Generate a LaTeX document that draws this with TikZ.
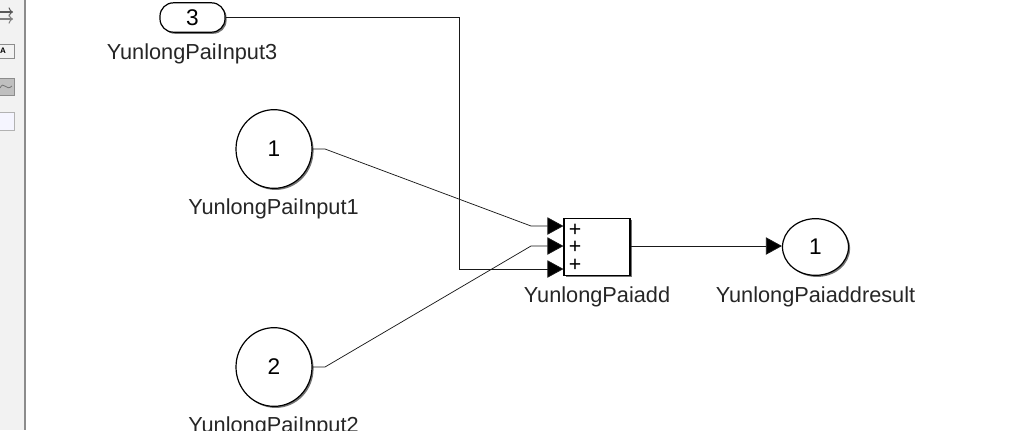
\documentclass[tikz,border=0pt]{standalone}
\usepackage{fontspec}
\setmainfont{Liberation Sans}
\usetikzlibrary{shadows,arrows.meta,shapes.geometric,calc}
\tikzset{
 x=0.75pt,y=-0.75pt,
 sl/.style={drop shadow={shadow xshift=1.2pt,shadow yshift=-1.2pt,fill=black,opacity=.55}},
 blockbox/.style={draw=black,line width=0.9pt,fill=white,sl,inner sep=0pt,font=\fontsize{17}{20}\selectfont},
 lbl/.style={inner sep=0pt,font=\fontsize{16.3}{19}\selectfont,text=black!85},
 plus/.style={inner sep=0pt,font=\fontsize{16}{16}\selectfont},
 wire/.style={draw=black!90,line width=0.55pt},
 arr/.style={wire,-{Triangle[length=12pt,width=13pt,fill=black]}},
}
\begin{document}
\begin{tikzpicture}
\useasboundingbox (0,0) rectangle (1010,430);
\clip (0,0) rectangle (1010,430);
\fill[white] (0,0) rectangle (1010,430);
\fill[black!5] (0,0) rectangle (25,430);
\draw[black!45,line width=0.8pt] (25,0) -- (25,430);
% toolbar icons
\draw[black!65,line width=0.8pt,->] (0,12) -- (13,12);
\draw[black!50,line width=0.8pt,->] (0,19) -- (13,19);
\draw[black!45,fill=black!5] (-3,44) rectangle (14,58);
\node[inner sep=0pt,font=\fontsize{6}{6}\selectfont\bfseries] (ia) at (3,51) {A};
\draw[black!45,fill=black!25] (-3,78) rectangle (14,95);
\draw[black!55,line width=0.6pt] (0,88) .. controls (4,80) and (6,92) .. (12,86);
\draw[black!30,fill=blue!4] (-3,112) rectangle (14,130);
% blocks
\node[blockbox,rounded corners=10pt,minimum width=48.75pt,minimum height=22pt] (in3) at (192.5,17.5) {3};
\node[blockbox,ellipse,minimum width=57pt,minimum height=59pt] (in1) at (274,149) {\raisebox{-0.6pt}{1}};
\node[blockbox,ellipse,minimum width=57pt,minimum height=59pt] (in2) at (274,367) {\raisebox{-0.6pt}{2}};
\node[blockbox,minimum width=49.5pt,minimum height=42.5pt] (add) at (597,247) {};
\node[blockbox,ellipse,minimum width=49.5pt,minimum height=42.5pt] (out) at (815.5,247) {1};
\node[plus] (p1) at (575,230) {+};
\node[plus] (p2) at (575,247) {+};
\node[plus] (p3) at (575,265) {+};
% labels
\node[lbl] (l3) at (192,54) {YunlongPaiInput3};
\node[lbl] (l1) at (273.5,209) {YunlongPaiInput1};
\node[lbl] (l2) at (273.5,427) {YunlongPaiInput2};
\node[lbl] (la) at (597,297) {YunlongPaiadd};
\node[lbl] (lo) at (815.5,297) {YunlongPaiaddresult};
% ports on the sum block
\coordinate (a1) at (add.west |- 0,226);
\coordinate (a2) at (add.west |- 0,246);
\coordinate (a3) at (add.west |- 0,269);
\coordinate (o1) at (add.east |- 0,246);
\coordinate (o2) at (out.west |- 0,246);
% wires
\draw[arr] (in3.east) -- (459,17.5) -- (459,269) -- (a3);
\draw[arr] (in1.east) -- (325,149) -- (531,226) -- (a1);
\draw[arr] (in2.east) -- (325,367) -- (531,246) -- (a2);
\draw[arr] (o1) -- (o2);
\end{tikzpicture}
\end{document}
